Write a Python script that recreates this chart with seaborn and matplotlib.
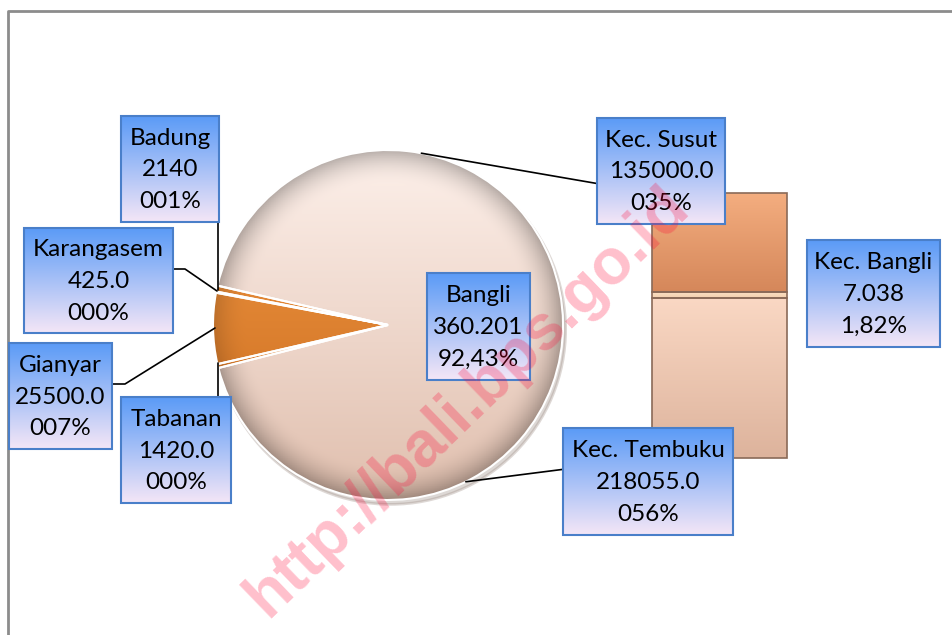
import numpy as np
import pandas as pd
import seaborn as sns
import matplotlib
matplotlib.use('Agg')
import matplotlib.pyplot as plt
from matplotlib.patches import Rectangle
from matplotlib.patches import ConnectionPatch
from matplotlib.colors import to_rgb

# Data
kab_names = ['Badung', 'Karangasem', 'Gianyar', 'Tabanan', 'Bangli']
kab_values = [2140, 425.0, 25500.0, 1420.0, 360201]
kab_value_text = ['2140', '425.0', '25500.0', '1420.0', '360.201']
kab_pct_text = ['001%', '000%', '007%', '000%', '92,43%']

kec_names = ['Kec. Tembuku', 'Kec. Bangli', 'Kec. Susut']
kec_values = [218055.0, 7038, 135000.0]
kec_value_text = ['218055.0', '7.038', '135000.0']
kec_pct_text = ['056%', '1,82%', '035%']

df_kab = pd.DataFrame({'name': kab_names, 'value': kab_values})
df_kec = pd.DataFrame({'name': kec_names, 'value': kec_values})

sns.set_theme(style='white')
plt.rcParams['font.family'] = ['Lato', 'DejaVu Sans']

W, H = 952, 635
fig = plt.figure(figsize=(W / 100, H / 100), dpi=100)


def px_axes(x0, y0, x1, y1):
    return fig.add_axes([x0 / W, 1 - y1 / H, (x1 - x0) / W, (y1 - y0) / H])


def shade_img(top, bottom, n=200, rim=0.0):
    t = np.linspace(0, 1, n)[:, None, None]
    a = np.array(to_rgb(top))[None, None, :]
    b = np.array(to_rgb(bottom))[None, None, :]
    img = a * (1 - t) + b * t
    img = np.repeat(img, n, axis=1)
    if rim > 0:
        yy, xx = np.mgrid[-1:1:n * 1j, -1:1:n * 1j]
        r = np.sqrt(xx ** 2 + yy ** 2)
        k = np.clip((r - 0.8) / 0.2, 0, 1) ** 2 * rim
        img = img * (1 - k[:, :, None])
    return np.clip(img, 0, 1)


# Pie (axes padded by 20% around the circle)
cx, cy, rad = 388, 325, 175
pad = 1.2
ax_pie = px_axes(cx - rad * pad, cy - rad * pad, cx + rad * pad, cy + rad * pad)
wedges, _ = ax_pie.pie(df_kab['value'], startangle=167, counterclock=True, radius=1,
                       colors=['#E07E2C', '#E07E2C', '#E8892F', '#E07E2C', '#F5DCCD'],
                       wedgeprops=dict(edgecolor='white', linewidth=1.5))
ax_pie.add_patch(plt.Circle((0.015, -0.025), 1.0, color='#a09088', alpha=0.35, zorder=0, lw=2))
for i, w in enumerate(wedges):
    if kab_names[i] == 'Bangli':
        img = shade_img('#FDF0EA', '#E0BFAE', rim=0.28)
    else:
        img = shade_img('#F39A45', '#C8691C', rim=0.15)
    im = ax_pie.imshow(img, extent=(-1, 1, -1, 1), zorder=w.get_zorder() + 0.1)
    im.set_clip_path(w)
for w in wedges:
    w.set_facecolor('none')
    w.set_zorder(5)
ax_pie.set_xlim(-pad, pad)
ax_pie.set_ylim(-pad, pad)
ax_pie.set_aspect('equal')
ax_pie.axis('off')

# Bar of sub-districts
ax_bar = px_axes(652, 193, 787, 458)
bar_colors = [('#FAD8C4', '#DDB39C'), ('#FBE0C4', '#F3CFAE'), ('#F4AE80', '#D5875A')]
bottom = 0
for i, row in df_kec.iterrows():
    bars = ax_bar.bar(0, row['value'], bottom=bottom, width=1.0, color='none',
                      edgecolor='#8a6a58', linewidth=1.2, zorder=5, clip_on=False)
    im = ax_bar.imshow(shade_img(*bar_colors[i]), extent=(-0.5, 0.5, bottom, bottom + row['value']),
                       aspect='auto', zorder=4)
    im.set_clip_path(bars[0])
    bottom += row['value']
ax_bar.set_xlim(-0.5, 0.5)
ax_bar.set_ylim(0, bottom)
ax_bar.axis('off')

# series lines pie -> bar
for ang, yb in [(79, bottom), (-63.6, 0)]:
    con = ConnectionPatch(xyA=(np.cos(np.radians(ang)), np.sin(np.radians(ang))), coordsA=ax_pie.transData,
                          xyB=(-0.5, yb), coordsB=ax_bar.transData, color='black', lw=1.2, zorder=1)
    fig.add_artist(con)

# overlay in pixel coords
ov = fig.add_axes([0, 0, 1, 1], zorder=10)
ov.set_facecolor('none')

# frame
ov.plot([8, 8, W], [H, 11, 11], color='#8c8c8c', lw=2)

# leader lines
leaders = [
    ([218, 218], [222, 290]),
    ([173, 185, 217], [269, 269, 291]),
    ([112, 125, 215], [384, 384, 328]),
    ([218, 218], [397, 363]),
]
for xs, ys in leaders:
    ov.plot(xs, ys, color='black', lw=1.2)

boxes = [
    (121, 116, 219, 222),
    (24, 228, 173, 333),
    (9, 343, 112, 449),
    (121, 397, 231, 503),
    (427, 273, 530, 380),
]
kec_boxes = [
    (563, 428, 733, 535),
    (807, 240, 940, 347),
    (597, 118, 725, 224),
]
grad = shade_img('#5B9BF7', '#F4E6F6', n=100)
labels = [(b, '%s\n%s\n%s' % (n, v, p)) for b, n, v, p in zip(boxes, kab_names, kab_value_text, kab_pct_text)]
labels += [(b, '%s\n%s\n%s' % (n, v, p)) for b, n, v, p in zip(kec_boxes, kec_names, kec_value_text, kec_pct_text)]
for (x0, y0, x1, y1), txt in labels:
    ov.imshow(grad, extent=(x0, x1, y1, y0), aspect='auto', zorder=2)
    ov.add_patch(Rectangle((x0, y0), x1 - x0, y1 - y0, fill=False, edgecolor='#4A7FC9', lw=1.5, zorder=3))
    ov.text((x0 + x1) / 2, (y0 + y1) / 2 + 1, txt, ha='center', va='center', fontsize=17.5,
            linespacing=1.62, color='black', zorder=4)

# watermark
ov.text(468, 402, 'http://bali.bps.go.id', rotation=44, ha='center', va='center', fontsize=46,
        fontweight='bold', family=['Liberation Sans', 'DejaVu Sans'], color='#FF0033', alpha=0.25,
        zorder=6, rotation_mode='anchor')

ov.set_xlim(0, W)
ov.set_ylim(H, 0)
ov.axis('off')

fig.savefig('out.png', dpi=100)
